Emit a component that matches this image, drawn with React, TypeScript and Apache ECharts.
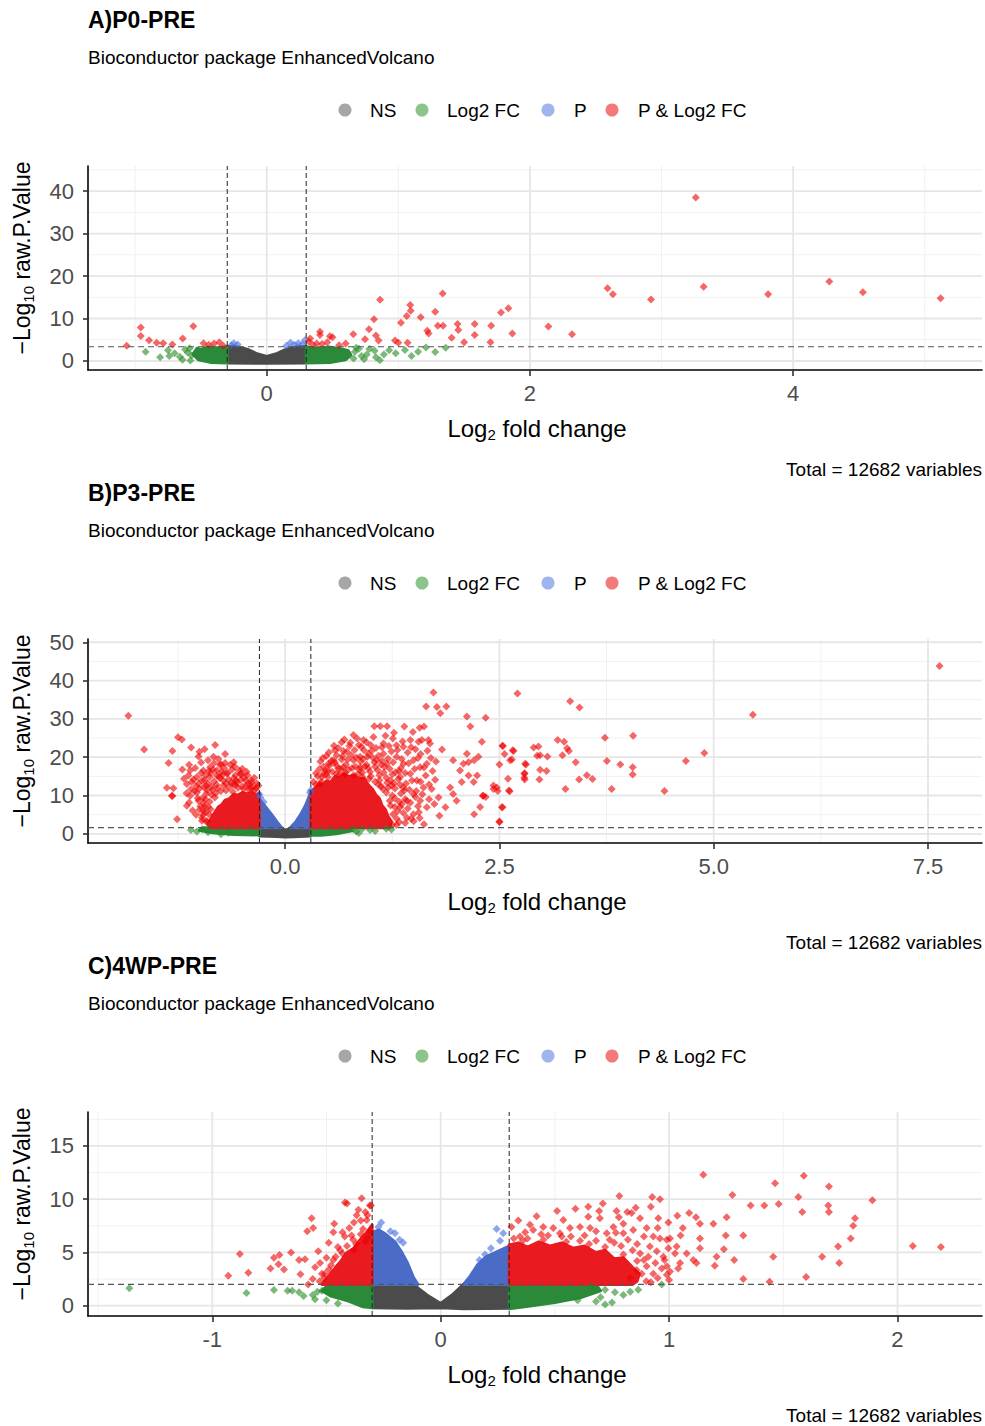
import React, { useEffect, useRef } from "react";
import * as echarts from "echarts";

type Pt = [number, number];

// ---------- shared texts ----------
const panelTitles = ["A)P0-PRE", "B)P3-PRE", "C)4WP-PRE"];
const subtitleText = "Bioconductor package EnhancedVolcano";
const legendLabels = ["NS", "Log2 FC", "P", "P & Log2 FC"];
const captionText = "Total = 12682 variables";

// ---------- Panel A ----------
const aXRange = [-1.358, 5.435];
const aYRange = [-2.12, 45.9];
const aXTicks = [0, 2, 4];
const aXTickLabels = ["0", "2", "4"];
const aXMinor = [-1, 1, 3, 5];
const aYTicks = [0, 10, 20, 30, 40];
const aYMinor = [5, 15, 25, 35, 45];
const aFcCut = 0.3;
const aPCut = 3.35;
const aNsArea: Pt[] = [[-0.3, -0.45], [-0.3, 3.4], [-0.22, 3.3], [-0.15, 2.8], [-0.08, 1.8], [0, 1.1], [0.08, 1.8], [0.15, 2.8], [0.22, 3.3], [0.3, 3.4], [0.3, -0.45], [0, -0.55]];
const aFcAreaL: Pt[] = [[-0.3, -0.45], [-0.3, 3.3], [-0.38, 3.1], [-0.45, 3.3], [-0.5, 2.7], [-0.53, 3.0], [-0.56, 1.6], [-0.52, 0.3], [-0.42, -0.35]];
const aFcAreaR: Pt[] = [[0.3, -0.45], [0.3, 3.3], [0.4, 3.0], [0.47, 3.3], [0.56, 2.9], [0.62, 2.4], [0.64, 1.4], [0.6, 0.3], [0.48, -0.35]];
const aFcPts: Pt[] = [[-0.92, 2.2], [-0.81, 0.9], [-0.75, 2.5], [-0.74, 1.2], [-0.66, 1.0], [-0.64, 0.3], [-0.6, 2.0], [-0.585, 3.0], [-0.57, 1.3], [-0.7, 1.8], [-0.62, 2.7], [-0.58, 0.1],
  [0.67, 2.2], [0.72, 1.2], [0.76, 1.5], [0.7, 2.9], [0.82, 2.4], [0.86, 0.2], [0.89, 1.5], [0.93, 2.5], [0.83, 0.9], [0.98, 1.8], [1.05, 2.6], [1.15, 2.2], [1.21, 3.2], [1.28, 2.1], [1.36, 3.1], [0.66, 0.6], [0.74, 0.4], [1.1, 1.2], [0.68, 3.1], [0.78, 2.8]];
const aPPts: Pt[] = [[-0.25, 4.2], [-0.22, 3.9], [-0.27, 3.7], [0.18, 4.3], [0.21, 3.8], [0.24, 4.2], [0.27, 3.9], [0.29, 4.9], [0.15, 3.6]];
const aPfcPts: Pt[] = [[-1.064, 3.6], [-0.957, 7.9], [-0.957, 5.9], [-0.894, 4.9], [-0.836, 4.3], [-0.786, 4.2], [-0.717, 3.9], [-0.638, 5.3], [-0.558, 8.2], [-0.48, 4.2], [-0.44, 3.8], [-0.4, 4.1], [-0.36, 4.4], [-0.33, 3.6],
  [0.32, 4.6], [0.33, 5.3], [0.35, 3.8], [0.38, 4.1], [0.405, 6.9], [0.405, 6.1], [0.42, 4.0], [0.46, 4.4], [0.48, 5.8], [0.5, 5.6], [0.55, 3.7], [0.6, 4.1], [0.658, 6.3], [0.747, 5.1], [0.777, 7.5], [0.815, 9.8], [0.83, 6.0], [0.85, 4.8], [0.861, 14.4], [0.975, 4.8], [1.0, 4.3], [1.02, 9.0], [1.064, 10.6], [1.09, 13.2], [1.094, 11.8], [1.07, 4.3], [1.17, 10.3], [1.22, 7.1], [1.23, 6.5], [1.28, 11.6], [1.3, 8.3], [1.337, 15.9], [1.34, 8.3], [1.405, 5.5], [1.45, 8.7], [1.456, 7.3], [1.5, 4.4], [1.58, 8.7], [1.58, 6.1], [1.7, 4.4], [1.705, 8.3], [1.78, 11.4], [1.836, 12.4], [1.866, 6.5], [2.14, 8.1], [2.32, 6.3], [2.59, 17.1], [2.63, 15.7], [2.92, 14.5], [3.26, 38.5], [3.32, 17.5], [3.81, 15.7], [4.275, 18.7], [4.53, 16.2], [5.12, 14.75]];

// ---------- Panel B ----------
const bXRange = [-2.3, 8.13];
const bYRange = [-2.4, 50.85];
const bXTicks = [0, 2.5, 5, 7.5];
const bXTickLabels = ["0.0", "2.5", "5.0", "7.5"];
const bXMinor = [-1.25, 1.25, 3.75, 6.25];
const bYTicks = [0, 10, 20, 30, 40, 50];
const bYMinor = [5, 15, 25, 35, 45];
const bFcCut = 0.3;
const bPCut = 1.6;
const bNsArea: Pt[] = [[-0.3, -0.6], [-0.3, 1.6], [-0.05, 1.6], [0, 0.9], [0.08, 1.6], [0.3, 1.6], [0.3, -0.6], [0.1, -0.75], [0, -0.85], [-0.1, -0.7]];
const bPAreaL: Pt[] = [[-0.3, 1.6], [-0.3, 9.0], [-0.27, 8.2], [-0.22, 6.8], [-0.15, 4.8], [-0.09, 3.0], [-0.04, 1.6]];
const bPAreaR: Pt[] = [[0.06, 1.6], [0.12, 3.0], [0.18, 5.0], [0.24, 7.5], [0.28, 9.8], [0.3, 11.0], [0.3, 1.6]];
const bFcAreaL: Pt[] = [[-0.3, -0.3], [-0.3, 1.6], [-0.95, 1.6], [-1.0, 0.9], [-0.85, 0.3], [-0.6, -0.2]];
const bFcAreaR: Pt[] = [[0.3, -0.4], [0.3, 1.6], [0.75, 1.6], [0.78, 0.8], [0.6, 0.0], [0.42, -0.4]];
const bPfcAreaL: Pt[] = [[-0.3, 1.6], [-0.3, 10.6], [-0.34, 10.2], [-0.39, 10.9], [-0.44, 10.4], [-0.5, 10.8], [-0.55, 10.1], [-0.6, 10.3], [-0.65, 9.2], [-0.7, 8.8], [-0.74, 7.6], [-0.78, 7.0], [-0.82, 5.6], [-0.85, 4.6], [-0.88, 3.4], [-0.9, 2.4], [-0.87, 1.6]];
const bPfcAreaR: Pt[] = [[0.3, 1.6], [0.3, 10.8], [0.33, 11.6], [0.36, 12.2], [0.4, 13.1], [0.44, 12.7], [0.48, 13.8], [0.53, 13.5], [0.58, 15.0], [0.63, 14.6], [0.68, 15.6], [0.74, 14.9], [0.8, 15.3], [0.86, 14.4], [0.92, 14.5], [0.97, 12.8], [1.02, 11.6], [1.06, 10.1], [1.1, 9.2], [1.13, 7.4], [1.17, 6.3], [1.2, 4.6], [1.24, 3.2], [1.22, 1.6]];
const bFcPts: Pt[] = [[-1.1, 1.0], [-1.03, 0.6], [-0.97, 1.2], [-0.9, 0.4], [-0.66, 0.3], [-0.75, -0.1], [0.8, 1.2], [0.83, 0.6], [0.9, 1.3], [0.99, 1.0], [1.05, 0.7], [1.18, 1.3], [1.24, 1.1], [0.86, 0.2]];
const bPPts: Pt[] = [[-0.3, 10.3], [-0.29, 9.5], [0.3, 11.4], [0.29, 10.8], [-0.25, 8.3]];
const bPfcPts: Pt[] = [
  [-1.83, 30.8], [-1.645, 22.0], [-1.36, 18.5], [-1.38, 12.0], [-1.315, 9.9], [-1.26, 3.8], [-1.25, 25.2], [-1.205, 24.6], [-1.315, 21.6], [-1.147, 7.3], [-1.097, 22.5], [-1.01, 20.2], [-0.817, 23.2], [-0.525, 15.6], [-0.9, 19.2], [-0.836, 20.1], [-0.758, 17.9], [-1.108, 16.5], [-1.128, 15.2], [-1.089, 13.5], [-1.147, 13.0], [-1.03, 14.8], [-0.953, 16.5], [-0.972, 13.9], [-0.875, 17.4], [-0.797, 16.5], [-0.68, 15.7], [-0.72, 13.9], [-0.603, 13.0], [-0.447, 12.8], [-0.486, 11.7], [-1.03, 10.8], [-1.108, 9.95], [-1.303, 11.9], [-1.322, 9.95], [-1.01, 8.6], [-0.953, 6.0], [-0.97, 4.2], [-0.914, 3.35],
  [-0.92, 12.5], [-0.85, 11.5], [-0.8, 12.8], [-0.75, 11.2], [-0.65, 12.2], [-0.55, 12.0], [-0.4, 11.8], [-0.35, 11.5], [-0.6, 14.5], [-0.88, 14.8], [-0.82, 9.5], [-0.95, 8.0], [-0.92, 10.5], [-1.0, 11.8], [-0.7, 18.5], [-0.62, 16.8], [-0.76, 14.5],
  [-1.12, 18.0], [-1.05, 17.2], [-0.98, 18.6], [-0.93, 15.2], [-0.87, 15.9], [-0.83, 18.4], [-0.78, 19.5], [-0.74, 16.2], [-0.71, 17.1], [-0.66, 14.2], [-0.64, 18.0], [-0.58, 15.3], [-0.56, 13.4], [-0.52, 14.1], [-0.5, 12.4], [-0.46, 13.9], [-0.43, 11.6], [-0.38, 12.2], [-0.34, 11.9], [-0.31, 12.6], [-0.95, 12.2], [-0.9, 13.1], [-0.86, 10.2], [-0.83, 13.7], [-0.79, 11.9], [-0.77, 14.9], [-0.72, 12.6], [-0.69, 11.3], [-0.61, 11.0], [-0.58, 12.7], [-1.06, 11.1], [-1.02, 9.3], [-0.99, 7.2], [-0.93, 9.0], [-0.9, 7.0], [-0.88, 8.4], [-1.08, 6.1], [-1.04, 5.0], [-0.97, 3.4], [-0.93, 5.6], [-1.15, 10.6], [-1.18, 14.4], [-1.2, 16.8], [-1.0, 21.4], [-0.94, 22.1], [-0.7, 20.8], [-0.6, 18.7], [-0.5, 17.0], [-0.44, 15.3], [-0.4, 14.0],
  [-0.33, 13.1], [-0.36, 14.6], [-0.39, 13.4], [-0.42, 12.9], [-0.45, 16.2], [-0.48, 14.7], [-0.51, 15.6], [-0.54, 16.6], [-0.57, 13.9], [-0.59, 17.6], [-0.63, 13.3], [-0.67, 15.9], [-0.69, 13.1], [-0.73, 15.4], [-0.75, 18.2], [-0.8, 15.3], [-0.81, 10.6], [-0.84, 16.8], [-0.86, 12.3], [-0.89, 16.4], [-0.91, 11.4], [-0.94, 14.0], [-0.96, 9.4], [-0.98, 15.9], [-1.01, 13.1], [-1.04, 12.4], [-1.07, 14.2], [-1.1, 11.6], [-1.12, 8.2], [-1.0, 6.3], [-0.96, 4.9], [-0.92, 3.2], [-0.94, 7.1], [-0.89, 5.1], [-0.87, 6.4],
  [0.797, 25.8], [0.914, 24.5], [1.04, 28.1], [1.11, 28.1], [1.19, 28.1], [1.27, 26.4], [1.39, 28.0], [1.49, 26.6], [1.57, 27.7], [1.62, 28.0], [1.73, 36.9], [1.645, 33.2], [1.77, 33.1], [1.88, 33.2], [1.81, 31.5], [2.12, 30.6], [2.16, 28.0], [2.34, 30.3], [2.295, 24.0], [2.71, 36.6], [0.75, 22.9], [0.68, 21.6], [0.6, 20.5], [0.505, 18.3], [0.447, 15.7], [0.408, 13.0],
  [1.03, 25.3], [1.147, 23.6], [1.257, 24.9], [1.3, 23.1], [1.38, 22.7], [1.46, 24.5], [1.556, 24.0], [1.595, 24.5], [1.672, 24.5], [1.69, 23.6], [1.83, 22.0], [1.96, 19.2], [2.08, 18.3], [2.14, 18.7], [2.205, 19.2], [2.12, 20.9], [2.255, 20.1], [2.06, 13.5], [2.04, 16.5], [2.14, 15.2], [2.2, 13.5], [2.24, 15.2], [2.31, 9.95], [2.205, 5.1], [1.96, 10.4], [2.0, 8.6], [1.87, 6.9], [1.925, 12.1], [1.79, 9.5], [1.71, 11.7], [1.8, 4.7], [1.62, 2.5], [2.5, 3.1], [2.53, 6.9], [2.43, 12.6], [2.47, 12.1], [2.61, 11.3], [2.54, 22.9], [2.655, 21.8], [2.8, 18.3], [2.9, 22.5], [2.94, 20.4], [2.625, 19.2], [2.79, 15.7], [2.79, 14.6],
  [0.564, 19.2], [0.68, 17.4], [0.797, 19.2], [0.875, 20.1], [0.972, 20.9], [0.875, 17.4], [1.07, 19.2], [1.147, 20.9], [1.187, 18.3], [1.3, 20.1], [1.38, 18.3], [1.497, 19.2], [1.575, 17.4], [1.653, 18.3], [1.46, 15.7], [1.537, 13.9], [1.614, 12.1], [1.38, 12.1], [1.497, 10.4], [1.42, 8.6], [1.342, 14.8], [1.575, 8.6], [1.653, 6.9], [1.497, 5.1], [1.42, 4.2], [1.342, 6.9],
  [0.38, 15.0], [0.5, 16.5], [0.62, 17.0], [0.7, 15.5], [0.9, 16.0], [1.0, 15.0], [1.1, 14.0], [1.2, 12.0], [1.25, 10.0], [1.28, 7.0], [1.3, 4.0], [1.15, 16.0], [1.05, 17.5], [0.45, 17.5], [0.95, 18.0], [1.25, 15.5], [1.35, 10.5], [1.3, 2.3], [1.4, 2.8],
  [0.33, 13.6], [0.36, 15.8], [0.4, 16.9], [0.43, 14.8], [0.48, 15.6], [0.52, 17.9], [0.55, 16.2], [0.58, 18.6], [0.63, 15.4], [0.66, 19.4], [0.71, 18.1], [0.74, 16.8], [0.77, 20.6], [0.82, 17.6], [0.85, 15.6], [0.88, 18.9], [0.92, 21.8], [0.97, 17.1], [1.02, 19.9], [1.08, 16.6], [1.12, 18.0], [1.18, 14.6], [1.22, 17.0], [1.27, 13.2], [1.33, 16.4], [1.24, 21.5], [1.13, 22.6], [1.0, 23.1], [0.86, 23.2], [0.66, 23.9], [0.58, 21.8], [0.48, 20.3], [1.36, 19.5], [1.43, 21.2], [1.52, 22.1], [1.58, 20.8], [1.64, 15.2], [1.7, 19.8], [1.75, 14.1], [1.34, 12.8], [1.4, 9.0], [1.45, 11.5], [1.55, 7.2], [1.6, 10.3], [1.68, 9.0], [1.5, 3.3], [1.38, 5.4], [1.56, 5.6], [1.74, 7.8], [1.33, 8.4], [1.28, 11.8], [1.22, 8.6], [1.18, 10.8], [1.12, 12.4], [1.05, 13.6], [0.98, 14.4], [0.9, 14.9], [0.8, 15.3], [0.7, 16.0], [0.6, 15.7], [0.5, 14.8], [0.42, 13.6], [0.36, 12.8],
  [0.41, 18.9], [0.44, 19.8], [0.47, 16.6], [0.51, 21.2], [0.54, 19.1], [0.57, 23.0], [0.6, 17.8], [0.62, 22.4], [0.65, 16.9], [0.67, 20.3], [0.69, 24.6], [0.72, 21.4], [0.73, 19.4], [0.76, 23.8], [0.78, 17.2], [0.81, 21.9], [0.83, 19.9], [0.84, 24.9], [0.87, 16.7], [0.89, 22.7], [0.91, 19.5], [0.93, 17.6], [0.95, 23.9], [0.96, 20.1], [0.99, 16.2], [1.01, 21.7], [1.04, 18.7], [1.06, 22.4], [1.09, 20.4], [1.1, 15.3], [1.13, 19.1], [1.16, 17.5], [1.17, 25.6], [1.2, 19.6], [1.21, 22.9], [1.23, 13.9], [1.26, 18.7], [1.29, 16.1], [1.31, 21.9], [1.32, 14.3], [1.35, 17.2], [1.37, 24.1], [1.4, 15.9], [1.41, 13.1], [1.44, 18.4], [1.47, 22.6], [1.48, 13.9], [1.51, 16.9], [1.53, 11.2], [1.55, 19.8], [1.58, 13.6], [1.62, 17.3], [1.66, 21.7], [1.68, 12.9], [1.72, 16.4], [1.76, 18.9], [1.28, 9.2], [1.31, 5.9], [1.33, 3.1], [1.36, 7.7], [1.39, 11.3], [1.43, 6.6], [1.46, 8.1], [1.47, 3.9], [1.52, 9.6], [1.57, 4.1], [1.26, 5.1], [1.24, 12.7], [1.19, 13.3], [1.14, 11.7], [1.09, 12.8], [1.23, 7.4], [1.25, 2.4],
  [7.635, 43.8], [5.457, 31.1], [3.325, 34.6], [3.435, 33.0], [4.06, 25.6], [3.73, 25.1], [3.18, 24.5], [3.255, 24.0], [3.29, 22.3], [3.31, 21.6], [2.955, 22.8], [2.535, 23.0], [2.665, 21.6], [2.56, 20.8], [2.975, 20.5], [3.06, 20.2], [3.235, 20.5], [2.645, 19.4], [4.89, 21.1], [4.675, 19.0], [3.754, 19.0], [3.39, 18.7], [2.5, 18.1], [2.81, 18.1], [3.91, 18.1], [4.055, 17.4], [4.055, 15.5], [2.975, 16.7], [3.05, 16.4], [2.795, 15.8], [2.795, 14.2], [2.6, 14.4], [2.967, 14.2], [3.52, 15.3], [3.585, 14.3], [3.43, 14.2], [2.43, 11.7], [2.48, 11.2], [2.62, 11.1], [3.27, 11.7], [3.81, 11.7], [4.425, 11.2], [2.307, 9.95], [2.34, 9.6], [2.535, 6.9], [2.5, 3.2], [2.275, 7.0]];

// ---------- Panel C ----------
const cXRange = [-1.544, 2.37];
const cYRange = [-0.97, 18.19];
const cXTicks = [-1, 0, 1, 2];
const cXTickLabels = ["-1", "0", "1", "2"];
const cXMinor = [-1.5, -0.5, 0.5, 1.5];
const cYTicks = [0, 5, 10, 15];
const cYMinor = [2.5, 7.5, 12.5, 17.5];
const cFcCut = 0.3;
const cPCut = 2.0;
const cNsArea: Pt[] = [[-0.3, -0.2], [-0.3, 2.0], [-0.12, 2.0], [-0.06, 1.0], [0, 0.2], [0.05, 1.0], [0.1, 2.0], [0.3, 2.0], [0.3, -0.25], [0.1, -0.3], [0, -0.2], [-0.15, -0.25]];
const cPAreaL: Pt[] = [[-0.3, 2.0], [-0.3, 6.9], [-0.27, 7.1], [-0.24, 6.7], [-0.2, 6.0], [-0.17, 5.0], [-0.145, 4.0], [-0.12, 2.7], [-0.1, 2.0]];
const cPAreaR: Pt[] = [[0.1, 2.0], [0.13, 2.8], [0.16, 3.8], [0.2, 4.6], [0.25, 5.1], [0.3, 5.6], [0.3, 2.0]];
const cFcAreaL: Pt[] = [[-0.3, -0.2], [-0.3, 2.0], [-0.49, 2.0], [-0.52, 1.4], [-0.48, 0.9], [-0.4, 0.4], [-0.34, -0.1]];
const cFcAreaR: Pt[] = [[0.3, -0.3], [0.3, 2.0], [0.68, 2.0], [0.7, 1.4], [0.62, 0.8], [0.5, 0.3], [0.4, 0.0]];
const cPfcAreaL: Pt[] = [[-0.3, 2.0], [-0.3, 7.6], [-0.32, 7.0], [-0.34, 6.5], [-0.36, 6.0], [-0.38, 5.4], [-0.41, 5.0], [-0.44, 4.1], [-0.46, 3.6], [-0.49, 2.8], [-0.52, 2.0]];
const cPfcAreaR: Pt[] = [[0.3, 2.0], [0.3, 5.7], [0.34, 5.9], [0.38, 5.5], [0.43, 6.0], [0.48, 5.6], [0.53, 5.9], [0.58, 5.4], [0.63, 5.6], [0.68, 5.0], [0.72, 5.2], [0.76, 4.4], [0.8, 4.5], [0.84, 3.6], [0.87, 3.0], [0.86, 2.3], [0.84, 2.0]];
const cFcPts: Pt[] = [[-1.363, 1.63], [-0.85, 1.2], [-0.73, 1.47], [-0.67, 1.4], [-0.65, 1.4], [-0.62, 1.26], [-0.6, 0.9], [-0.56, 1.0], [-0.54, 1.3], [-0.52, 1.4], [-0.485, 1.16], [-0.55, 0.6], [-0.5, 0.5], [-0.45, 0.2],
  [0.7, 0.8], [0.72, 1.5], [0.75, 0.3], [0.763, 1.26], [0.8, 1.0], [0.83, 1.3], [0.865, 1.5], [0.968, 2.0], [0.68, 0.4], [0.66, 1.8], [0.72, 0.1], [0.6, 0.5]];
const cPPts: Pt[] = [[-0.26, 7.8], [-0.273, 7.4], [-0.22, 7.0], [-0.2, 6.8], [-0.164, 5.9], [-0.18, 6.2], [0.245, 7.2], [0.274, 6.8], [0.194, 4.8], [0.289, 5.2], [0.22, 5.4], [0.17, 4.3], [0.26, 6.1]];
const cPfcPts: Pt[] = [
  [-0.93, 2.8], [-0.879, 4.85], [-0.842, 3.1], [-0.745, 3.5], [-0.73, 4.5], [-0.71, 3.9], [-0.706, 4.76], [-0.686, 3.4], [-0.655, 5.0], [-0.62, 4.3], [-0.594, 4.35], [-0.614, 2.95], [-0.58, 2.0], [-0.584, 7.0], [-0.558, 7.3], [-0.565, 8.2], [-0.536, 5.1], [-0.507, 3.0], [-0.49, 5.9], [-0.47, 6.9], [-0.419, 9.7], [-0.41, 9.6], [-0.346, 10.1], [-0.305, 9.4], [-0.368, 8.5], [-0.38, 7.8], [-0.4, 7.3], [-0.43, 6.9], [-0.466, 7.7], [-0.528, 4.0], [-0.44, 5.2], [-0.383, 6.2], [-0.324, 8.05], [-0.32, 8.5], [-0.31, 9.4], [-0.33, 8.8], [-0.35, 8.0], [-0.42, 6.5], [-0.45, 5.5], [-0.5, 4.5], [-0.55, 3.6], [-0.52, 3.0], [-0.48, 3.8], [-0.36, 9.0], [-0.46, 4.6], [-0.56, 2.5],
  [-0.31, 7.0], [-0.32, 6.4], [-0.34, 7.2], [-0.35, 6.7], [-0.37, 5.8], [-0.39, 6.6], [-0.41, 5.6], [-0.43, 4.9], [-0.47, 4.3], [-0.49, 3.4], [-0.51, 2.6], [-0.53, 2.3], [-0.38, 5.2], [-0.33, 6.0],
  [1.15, 12.3], [1.59, 12.2], [1.464, 11.5], [1.7, 11.2], [1.566, 10.2], [1.277, 10.4], [1.89, 9.9], [1.48, 9.55], [1.417, 9.4], [1.357, 9.4], [1.697, 9.4], [1.7, 8.8], [1.583, 8.8], [1.814, 8.2], [1.806, 7.5], [1.795, 6.3], [1.74, 5.55], [1.745, 4.0], [1.67, 4.6], [1.6, 2.7], [1.456, 4.6], [1.44, 2.25], [1.325, 2.5], [1.285, 4.3], [1.325, 6.6], [1.248, 6.6], [1.252, 8.3], [2.067, 5.6], [2.19, 5.5], [1.088, 8.7], [1.118, 8.3], [1.135, 7.7], [1.036, 8.45], [0.997, 7.8], [0.96, 10.0], [0.926, 10.2], [0.782, 10.3], [0.646, 9.3], [0.694, 8.9], [0.77, 8.9], [0.817, 8.8], [0.854, 9.2], [0.92, 9.3], [1.194, 7.7], [1.24, 5.3], [1.208, 4.6], [1.2, 3.75], [1.135, 5.4], [1.135, 6.3], [1.12, 4.0], [1.05, 6.6], [1.06, 7.3], [1.004, 6.3], [0.997, 5.4], [1.026, 4.9], [1.04, 3.5], [0.99, 2.9], [1.004, 3.2], [0.95, 7.3], [0.953, 8.2], [0.873, 8.2], [0.836, 8.7], [0.8, 6.8], [0.767, 6.85],
  [0.347, 6.5], [0.391, 7.6], [0.405, 7.1], [0.449, 7.4], [0.493, 7.3], [0.537, 8.05], [0.566, 7.3], [0.522, 6.8], [0.61, 7.4], [0.654, 7.3], [0.646, 8.35], [0.697, 8.2], [0.727, 6.8], [0.756, 7.4], [0.8, 7.7], [0.843, 7.1], [0.902, 7.3], [0.931, 6.5], [0.96, 6.3], [0.99, 6.2], [0.916, 5.55], [0.946, 5.1], [0.873, 4.9], [0.909, 4.6], [0.975, 4.6], [1.033, 5.55], [1.077, 4.9], [1.106, 4.3], [1.048, 4.0], [0.99, 3.7], [0.931, 3.0], [0.968, 3.5], [0.902, 3.7], [0.858, 3.35],
  [0.32, 6.3], [0.36, 6.1], [0.45, 6.2], [0.55, 6.0], [0.65, 5.8], [0.72, 5.5], [0.8, 4.8], [0.86, 4.2], [0.9, 2.3], [0.83, 2.6], [0.92, 2.2],
  [0.31, 7.4], [0.34, 8.0], [0.37, 6.9], [0.42, 8.4], [0.47, 6.6], [0.51, 8.9], [0.57, 6.5], [0.59, 9.1], [0.63, 6.6], [0.68, 7.0], [0.71, 9.6], [0.74, 6.2], [0.78, 8.3], [0.82, 6.2], [0.86, 5.8], [0.89, 6.5], [0.79, 5.6], [0.84, 5.2], [0.89, 4.3], [0.94, 4.0], [0.98, 4.3], [0.95, 2.6], [1.0, 2.4], [0.88, 3.0], [0.76, 5.9], [0.68, 6.1], [0.61, 6.1], [0.53, 6.5], [0.44, 6.7], [0.38, 6.3]];

// ---------- styling ----------
const FONT = '"Liberation Sans", Arial, sans-serif';
const COL = { ns: "#4d4d4d", fc: "#228b22", p: "#4169e1", pfc: "#ee0000" };
const AREA = { ns: "#4b4b4b", fc: "#2b8a3a", p: "#4a6bc6", pfc: "#ea1b20" };
const LEGEND_COL = ["#a6a6a6", "#8cc48c", "#a0b4ee", "#f47a7a"];

const panels = [
  { xr: aXRange, yr: aYRange, xt: aXTicks, xl: aXTickLabels, xm: aXMinor, yt: aYTicks, ym: aYMinor, fcCut: aFcCut, pCut: aPCut,
    ns: [aNsArea], fcA: [aFcAreaL, aFcAreaR], pA: [] as Pt[][], pfcA: [] as Pt[][], fc: aFcPts, p: aPPts, pfc: aPfcPts },
  { xr: bXRange, yr: bYRange, xt: bXTicks, xl: bXTickLabels, xm: bXMinor, yt: bYTicks, ym: bYMinor, fcCut: bFcCut, pCut: bPCut,
    ns: [bNsArea], fcA: [bFcAreaL, bFcAreaR], pA: [bPAreaL, bPAreaR], pfcA: [bPfcAreaL, bPfcAreaR], fc: bFcPts, p: bPPts, pfc: bPfcPts },
  { xr: cXRange, yr: cYRange, xt: cXTicks, xl: cXTickLabels, xm: cXMinor, yt: cYTicks, ym: cYMinor, fcCut: cFcCut, pCut: cPCut,
    ns: [cNsArea], fcA: [cFcAreaL, cFcAreaR], pA: [cPAreaL, cPAreaR], pfcA: [cPfcAreaL, cPfcAreaR], fc: cFcPts, p: cPPts, pfc: cPfcPts },
];

const PANEL_DY = 473;
const GRID_LEFT = 88;
const GRID_TOP = 166;
const GRID_W = 894;
const GRID_H = 204;

function buildOption() {
  const grid: any[] = [];
  const xAxis: any[] = [];
  const yAxis: any[] = [];
  const series: any[] = [];
  const graphics: any[] = [];

  panels.forEach((pn, i) => {
    const dy = PANEL_DY * i;
    grid.push({ left: GRID_LEFT, top: GRID_TOP + dy, width: GRID_W, height: GRID_H, containLabel: false });
    xAxis.push({
      type: "value", gridIndex: i, min: pn.xr[0], max: pn.xr[1], position: "bottom",
      axisLine: { show: true, onZero: false, lineStyle: { color: "#000", width: 1.6 } },
      axisTick: { show: true, customValues: pn.xt, length: 6, lineStyle: { color: "#333", width: 1.6 } },
      axisLabel: {
        customValues: pn.xt, margin: 12, fontSize: 22, color: "#4d4d4d", fontFamily: FONT,
        formatter: (v: number) => { const k = pn.xt.findIndex((t) => Math.abs(t - v) < 1e-6); return k >= 0 ? pn.xl[k] : ""; },
      },
      splitLine: { show: false },
    });
    yAxis.push({
      type: "value", gridIndex: i, min: pn.yr[0], max: pn.yr[1],
      axisLine: { show: true, onZero: false, lineStyle: { color: "#000", width: 1.6 } },
      axisTick: { show: true, customValues: pn.yt, length: 5, lineStyle: { color: "#333", width: 1.6 } },
      axisLabel: { customValues: pn.yt, margin: 14, fontSize: 22, color: "#4d4d4d", fontFamily: FONT, formatter: (v: number) => String(v) },
      splitLine: { show: false },
    });

    // grid lines
    series.push({
      type: "custom", xAxisIndex: i, yAxisIndex: i, silent: true, z: 0, data: [[0, 0]],
      renderItem: (_p: any, api: any) => {
        const ch: any[] = [];
        const ln = (a: number[], b: number[], stroke: string, w: number) => {
          const p1 = api.coord(a), p2 = api.coord(b);
          ch.push({ type: "line", shape: { x1: p1[0], y1: p1[1], x2: p2[0], y2: p2[1] }, style: { stroke, lineWidth: w } });
        };
        pn.xm.forEach((v) => ln([v, pn.yr[0]], [v, pn.yr[1]], "#f1f1f1", 1));
        pn.ym.forEach((v) => ln([pn.xr[0], v], [pn.xr[1], v], "#f1f1f1", 1));
        pn.xt.forEach((v) => ln([v, pn.yr[0]], [v, pn.yr[1]], "#e6e6e6", 1.8));
        pn.yt.forEach((v) => ln([pn.xr[0], v], [pn.xr[1], v], "#e6e6e6", 1.8));
        return { type: "group", children: ch };
      },
    });

    // dense point clouds
    series.push({
      type: "custom", xAxisIndex: i, yAxisIndex: i, silent: true, z: 1, data: [[0, 0]],
      renderItem: (_p: any, api: any) => {
        const ch: any[] = [];
        const poly = (pts: Pt[], fill: string) => {
          ch.push({ type: "polygon", shape: { points: pts.map((q) => api.coord(q)) }, style: { fill, stroke: fill, lineWidth: 3, lineJoin: "round" } });
        };
        pn.ns.forEach((a) => poly(a, AREA.ns));
        pn.fcA.forEach((a) => poly(a, AREA.fc));
        pn.pA.forEach((a) => poly(a, AREA.p));
        pn.pfcA.forEach((a) => poly(a, AREA.pfc));
        return { type: "group", children: ch };
      },
    });

    const sc = (name: string, data: Pt[], color: string) => ({
      type: "scatter", name, xAxisIndex: i, yAxisIndex: i, silent: true, z: 2, data,
      symbol: "diamond", symbolSize: 8, itemStyle: { color, opacity: 0.6 },
    });
    series.push(sc("Log2 FC", pn.fc, COL.fc));
    series.push(sc("P", pn.p, COL.p));
    series.push(sc("P & Log2 FC", pn.pfc, COL.pfc));

    // thresholds
    series.push({
      type: "custom", xAxisIndex: i, yAxisIndex: i, silent: true, z: 3, data: [[0, 0]],
      renderItem: (_p: any, api: any) => {
        const ch: any[] = [];
        const ln = (a: number[], b: number[], stroke: string, w: number, dash: number[]) => {
          const p1 = api.coord(a), p2 = api.coord(b);
          ch.push({ type: "line", shape: { x1: p1[0], y1: p1[1], x2: p2[0], y2: p2[1] }, style: { stroke, lineWidth: w, lineDash: dash } });
        };
        ln([-pn.fcCut, pn.yr[0]], [-pn.fcCut, pn.yr[1]], "#222", 1, [5, 3]);
        ln([pn.fcCut, pn.yr[0]], [pn.fcCut, pn.yr[1]], "#222", 1, [5, 3]);
        ln([pn.xr[0], pn.pCut], [pn.xr[1], pn.pCut], "#555", 1.2, [6, 4]);
        return { type: "group", children: ch };
      },
    });

    // texts
    graphics.push({ type: "text", x: 88, y: 20 + dy, style: { text: panelTitles[i], fontSize: 23, fontWeight: "bold", fontFamily: FONT, fill: "#000", verticalAlign: "middle" } });
    graphics.push({ type: "text", x: 88, y: 57 + dy, style: { text: subtitleText, fontSize: 19, fontFamily: FONT, fill: "#000", verticalAlign: "middle" } });
    const lcx = [345, 422, 548, 612];
    const ltx = [370, 447, 574, 638];
    legendLabels.forEach((lab, k) => {
      graphics.push({ type: "circle", shape: { cx: lcx[k], cy: 110 + dy, r: 6.5 }, style: { fill: LEGEND_COL[k] } });
      graphics.push({ type: "text", x: ltx[k], y: 110 + dy, style: { text: lab, fontSize: 19, fontFamily: FONT, fill: "#000", verticalAlign: "middle" } });
    });
    graphics.push({
      type: "text", x: 537, y: 428 + dy,
      style: {
        text: "Log{s|2} fold change", fontSize: 24, fontFamily: FONT, fill: "#000", align: "center", verticalAlign: "middle", lineHeight: 28,
        rich: { s: { fontSize: 15, fontFamily: FONT, fill: "#000", verticalAlign: "bottom", lineHeight: 15 } },
      },
    });
    graphics.push({
      type: "text", x: 22, y: 258 + dy, rotation: Math.PI / 2,
      style: {
        text: "\u2212Log{s|10} raw.P.Value", fontSize: 23, fontFamily: FONT, fill: "#000", align: "center", verticalAlign: "middle", lineHeight: 28,
        rich: { s: { fontSize: 15, fontFamily: FONT, fill: "#000", verticalAlign: "bottom", lineHeight: 15 } },
      },
    });
    graphics.push({ type: "text", x: 982, y: 469 + dy, style: { text: captionText, fontSize: 19, fontFamily: FONT, fill: "#000", align: "right", verticalAlign: "middle" } });
  });

  return { animation: false, backgroundColor: "#fff", grid, xAxis, yAxis, series, graphic: { elements: graphics } };
}

export default function App() {
  const ref = useRef<HTMLDivElement>(null);
  useEffect(() => {
    document.body.style.margin = "0";
    if (!ref.current) return;
    const chart = echarts.init(ref.current, null, { renderer: "svg" });
    chart.setOption(buildOption() as any);
    return () => chart.dispose();
  }, []);
  return <div ref={ref} style={{ width: 985, height: 1426 }} />;
}
